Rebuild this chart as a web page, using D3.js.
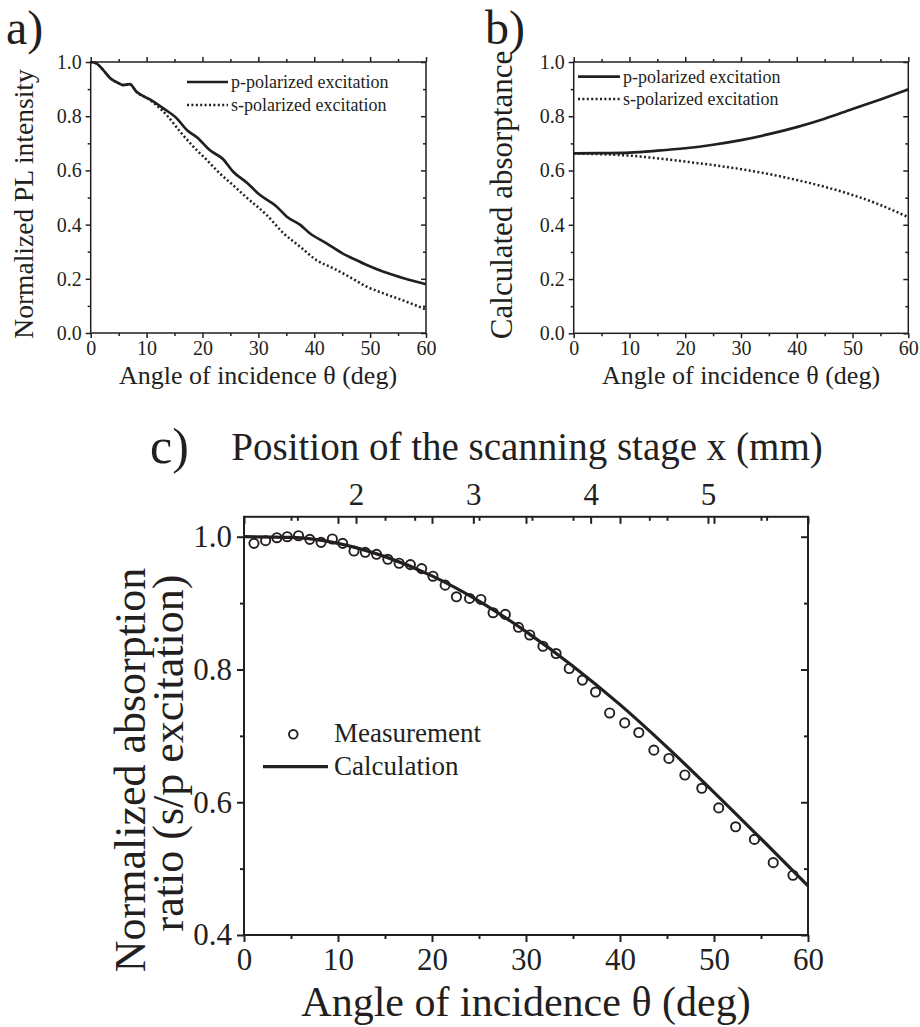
<!DOCTYPE html>
<html><head><meta charset="utf-8">
<script src="https://cdn.jsdelivr.net/npm/d3@7"></script>
<style>
html,body{margin:0;padding:0;background:#fff;}
</style></head>
<body>
<svg id="chart" width="920" height="1027"></svg>
<script>
// ---------- DATA ----------
// Panel a: normalized PL intensity
const aThetaP = [0,1,2.25,3.5,5,5.8,7,8.2,10.6,13,15.4,17.2,19,21.3,23.7,25.5,27.9,30.3,33.3,35.1,37.5,39.2,42.2,45.2,47,49.4,52.4,55.4,58.3,60];
const aValP   = [1.0,0.995,0.97,0.94,0.922,0.915,0.918,0.89,0.862,0.829,0.792,0.749,0.722,0.675,0.641,0.595,0.555,0.509,0.466,0.429,0.399,0.368,0.331,0.292,0.274,0.251,0.226,0.206,0.189,0.180];
const aThetaS = [0,1,2.25,3.5,5,5.8,7,8.2,10.6,13.6,16,18.4,20.8,23.1,25.5,27.9,31.5,34.5,37.5,40.4,43.4,46.4,49.4,52.4,55.4,60];
const aValS   = [1.0,0.995,0.97,0.94,0.922,0.915,0.918,0.89,0.86,0.804,0.743,0.687,0.638,0.589,0.545,0.500,0.435,0.368,0.318,0.269,0.239,0.206,0.171,0.146,0.124,0.087];
// Panel b: calculated absorptance
const bTheta = [0,5,10,15,20,25,30,35,40,45,50,55,60];
const bValP  = [0.663,0.664,0.666,0.673,0.682,0.695,0.712,0.734,0.760,0.791,0.827,0.862,0.899];
const bValS  = [0.663,0.660,0.655,0.645,0.633,0.620,0.605,0.587,0.565,0.540,0.510,0.473,0.428];
// Panel c: normalized absorption ratio
const cMeasTheta = [1.06,2.3,3.5,4.6,5.8,7.0,8.2,9.4,10.5,11.7,12.9,14.1,15.3,16.5,17.7,18.9,20.1,21.4,22.6,24.0,25.2,26.5,27.8,29.2,30.4,31.8,33.2,34.6,36.0,37.4,38.9,40.5,42.0,43.6,45.2,46.9,48.7,50.5,52.3,54.3,56.3,58.4];
const cMeasVal   = [0.990,0.994,0.9985,1.000,1.0015,0.996,0.9915,0.9966,0.990,0.9785,0.9765,0.9735,0.966,0.960,0.958,0.952,0.9405,0.927,0.9095,0.907,0.9055,0.8855,0.883,0.8635,0.852,0.835,0.824,0.8015,0.784,0.766,0.7345,0.7195,0.705,0.6785,0.666,0.641,0.621,0.5915,0.563,0.544,0.509,0.490];
const cCalcTheta = [0,5,10,15,20,25,30,35,40,45,50,55,60];
const cCalcVal   = [1.000,0.999,0.990,0.970,0.941,0.903,0.857,0.805,0.747,0.683,0.615,0.545,0.474];
// Tick values
const angTicks = [0,10,20,30,40,50,60];
const angMinor = [5,15,25,35,45,55];
const abTicksY = [0,0.2,0.4,0.6,0.8,1.0];
const abMinorY = [0.1,0.3,0.5,0.7,0.9];
const cTicksY = [0.4,0.6,0.8,1.0];
const cMinorY = [0.5,0.7,0.9];
const topTicks = [2,3,4,5];
const topMinor = [1.5,2.5,3.5,4.5,5.5];

const svg = d3.select("#chart");
const INK = "#231f20";
const SERIF = '"Liberation Serif","Times New Roman",Times,serif';

function tickAxis(g, axis){ g.call(axis); g.select(".domain").remove(); g.selectAll("line").attr("stroke",INK); g.attr("font-family",SERIF); return g; }

function panel(o){
  const x = d3.scaleLinear().domain(o.xd).range([o.L,o.R]);
  const y = d3.scaleLinear().domain(o.yd).range([o.B,o.T]);
  const g = svg.append("g");
  const sw = o.sw;
  const fmt = d3.format(".1f");
  const gb = tickAxis(g.append("g").attr("transform",`translate(0,${o.B})`),
     d3.axisBottom(x).tickValues(angTicks).tickSize(o.maj).tickPadding(o.padX).tickFormat(d3.format("d")));
  gb.selectAll("line").attr("stroke-width",sw);
  gb.selectAll("text").attr("font-size",o.fs).attr("fill",INK);
  tickAxis(g.append("g").attr("transform",`translate(0,${o.B})`),
     d3.axisBottom(x).tickValues(angMinor).tickSize(o.min).tickFormat("")).selectAll("line").attr("stroke-width",sw);
  const gl = tickAxis(g.append("g").attr("transform",`translate(${o.L},0)`),
     d3.axisLeft(y).tickValues(o.yt).tickSize(o.maj).tickPadding(o.padY).tickFormat(fmt));
  gl.selectAll("line").attr("stroke-width",sw);
  gl.selectAll("text").attr("font-size",o.fs).attr("fill",INK);
  tickAxis(g.append("g").attr("transform",`translate(${o.L},0)`),
     d3.axisLeft(y).tickValues(o.ym).tickSize(o.min).tickFormat("")).selectAll("line").attr("stroke-width",sw);
  const topAx = o.topOut ? d3.axisTop : d3.axisBottom;
  tickAxis(g.append("g").attr("transform",`translate(0,${o.T})`),
     topAx(x).tickValues(angTicks).tickSize(o.maj).tickFormat("")).selectAll("line").attr("stroke-width",sw);
  tickAxis(g.append("g").attr("transform",`translate(0,${o.T})`),
     topAx(x).tickValues(angMinor).tickSize(o.min).tickFormat("")).selectAll("line").attr("stroke-width",sw);
  tickAxis(g.append("g").attr("transform",`translate(${o.R},0)`),
     d3.axisLeft(y).tickValues(o.yt).tickSize(o.maj).tickFormat("")).selectAll("line").attr("stroke-width",sw);
  tickAxis(g.append("g").attr("transform",`translate(${o.R},0)`),
     d3.axisLeft(y).tickValues(o.ym).tickSize(o.min).tickFormat("")).selectAll("line").attr("stroke-width",sw);
  g.append("rect").attr("x",o.L).attr("y",o.T).attr("width",o.R-o.L).attr("height",o.B-o.T)
    .attr("fill","none").attr("stroke",INK).attr("stroke-width",sw);
  return {g,x,y};
}

const line = (x,y)=>d3.line().x(d=>x(d[0])).y(d=>y(d[1])).curve(d3.curveMonotoneX);
const zip = (a,b)=>a.map((v,i)=>[v,b[i]]);

// ---------- Panel a ----------
{
  const {g,x,y} = panel({L:90.7,R:426,T:62,B:333,xd:[0,60],yd:[0,1],yt:abTicksY,ym:abMinorY,
    maj:5,min:3,sw:1.5,fs:20,padX:3,padY:4,topOut:true});
  g.append("path").datum(zip(aThetaS,aValS)).attr("d",line(x,y)).attr("fill","none")
    .attr("stroke",INK).attr("stroke-width",2.5).attr("stroke-dasharray","2,2.4");
  g.append("path").datum(zip(aThetaP,aValP)).attr("d",line(x,y)).attr("fill","none")
    .attr("stroke",INK).attr("stroke-width",2.7);
  g.append("line").attr("x1",187).attr("x2",228).attr("y1",82).attr("y2",82).attr("stroke",INK).attr("stroke-width",2.7);
  g.append("line").attr("x1",187).attr("x2",228).attr("y1",105).attr("y2",105).attr("stroke",INK).attr("stroke-width",2.5).attr("stroke-dasharray","2,2.4");
  g.append("text").attr("x",231).attr("y",88).attr("font-size",18).text("p-polarized excitation");
  g.append("text").attr("x",231).attr("y",111).attr("font-size",18).text("s-polarized excitation");
  g.append("text").attr("x",258).attr("y",384).attr("text-anchor","middle").attr("font-size",26).text("Angle of incidence θ (deg)");
  g.append("text").attr("transform","translate(33,204) rotate(-90)").attr("text-anchor","middle").attr("font-size",27.5).text("Normalized PL intensity");
  g.append("text").attr("x",6).attr("y",43.5).attr("font-size",48).text("a)");
}
// ---------- Panel b ----------
{
  const {g,x,y} = panel({L:573.7,R:908.3,T:62,B:333.3,xd:[0,60],yd:[0,1],yt:abTicksY,ym:abMinorY,
    maj:5,min:3,sw:1.5,fs:20,padX:3,padY:4,topOut:true});
  g.append("path").datum(zip(bTheta,bValS)).attr("d",line(x,y)).attr("fill","none")
    .attr("stroke",INK).attr("stroke-width",2.5).attr("stroke-dasharray","2,2.4");
  g.append("path").datum(zip(bTheta,bValP)).attr("d",line(x,y)).attr("fill","none")
    .attr("stroke",INK).attr("stroke-width",2.7);
  g.append("line").attr("x1",578).attr("x2",620).attr("y1",76.7).attr("y2",76.7).attr("stroke",INK).attr("stroke-width",2.7);
  g.append("line").attr("x1",578).attr("x2",620).attr("y1",99).attr("y2",99).attr("stroke",INK).attr("stroke-width",2.5).attr("stroke-dasharray","2,2.4");
  g.append("text").attr("x",623).attr("y",83).attr("font-size",18).text("p-polarized excitation");
  g.append("text").attr("x",623).attr("y",105).attr("font-size",18).text("s-polarized excitation");
  g.append("text").attr("x",741).attr("y",384).attr("text-anchor","middle").attr("font-size",26).text("Angle of incidence θ (deg)");
  g.append("text").attr("transform","translate(512,195) rotate(-90)").attr("text-anchor","middle").attr("font-size",31).text("Calculated absorptance");
  g.append("text").attr("x",485).attr("y",43.5).attr("font-size",48).text("b)");
}
// ---------- Panel c ----------
{
  const {g,x,y} = panel({L:244,R:808,T:516.8,B:935,xd:[0,60],yd:[0.4,1.03],yt:cTicksY,ym:cMinorY,
    maj:7,min:4,sw:2,fs:31,padX:6,padY:5,topOut:false});
  const xt = d3.scaleLinear().domain([1.045,5.853]).range([244,808]);
  tickAxis(g.append("g").attr("transform","translate(0,516.8)"),
    d3.axisBottom(xt).tickValues(topTicks).tickSize(7).tickFormat("")).selectAll("line").attr("stroke-width",2);
  tickAxis(g.append("g").attr("transform","translate(0,516.8)"),
    d3.axisBottom(xt).tickValues(topMinor).tickSize(4).tickFormat("")).selectAll("line").attr("stroke-width",2);
  const gtl = tickAxis(g.append("g").attr("transform","translate(0,516.8)"),
    d3.axisTop(xt).tickValues(topTicks).tickSize(0).tickPadding(12).tickFormat(d3.format("d")));
  gtl.selectAll("text").attr("font-size",31).attr("fill",INK);

  g.append("path").datum(zip(cCalcTheta,cCalcVal)).attr("d",line(x,y)).attr("fill","none")
    .attr("stroke",INK).attr("stroke-width",3.2);
  g.selectAll("circle.m").data(zip(cMeasTheta,cMeasVal)).join("circle").attr("class","m")
    .attr("cx",d=>x(d[0])).attr("cy",d=>y(d[1])).attr("r",4.6)
    .attr("fill","none").attr("stroke",INK).attr("stroke-width",1.9);
  g.append("circle").attr("cx",293.3).attr("cy",734.3).attr("r",4.3).attr("fill","none").attr("stroke",INK).attr("stroke-width",1.9);
  g.append("text").attr("x",334).attr("y",742).attr("font-size",27).text("Measurement");
  g.append("line").attr("x1",263).attr("x2",328).attr("y1",766.7).attr("y2",766.7).attr("stroke",INK).attr("stroke-width",3.2);
  g.append("text").attr("x",334).attr("y",775).attr("font-size",27).text("Calculation");
  g.append("text").attr("x",526).attr("y",1016).attr("text-anchor","middle").attr("font-size",42).text("Angle of incidence θ (deg)");
  g.append("text").attr("x",527).attr("y",460).attr("text-anchor","middle").attr("font-size",39).text("Position of the scanning stage x (mm)");
  g.append("text").attr("transform","translate(145,770) rotate(-90)").attr("text-anchor","middle").attr("font-size",44).text("Normalized absorption");
  g.append("text").attr("transform","translate(183,753) rotate(-90)").attr("text-anchor","middle").attr("font-size",44).text("ratio (s/p excitation)");
  g.append("text").attr("x",150).attr("y",463).attr("font-size",50).text("c)");
}
svg.selectAll("text").style("font-family",SERIF).attr("fill",INK);
</script>
</body></html>
